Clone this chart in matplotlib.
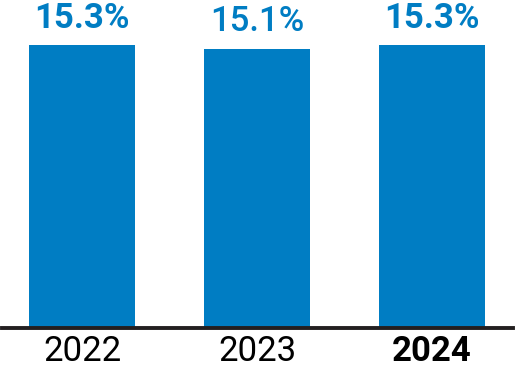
import matplotlib
matplotlib.use('Agg')
import matplotlib.pyplot as plt

# data
years = ['2022', '2023', '2024']
values = [15.3, 15.1, 15.3]
value_labels = ['15.3%', '15.1%', '15.3%']
label_weights = ['bold', 'medium', 'bold']
year_weights = ['normal', 'normal', 'bold']

blue = '#007DC3'

fig = plt.figure(figsize=(5.15, 3.72), dpi=100)
ax = fig.add_axes([2/515, 1 - 328/372, 511/515, 328/372])

x = range(len(years))
ax.bar(x, values, width=0.61, color=blue, zorder=2)

for xi, v, lab, w in zip(x, values, value_labels, label_weights):
    ax.text(xi, v + 0.55, lab, ha='center', va='bottom', color=blue,
            fontsize=25, fontweight=w, family='Roboto')

ax.axhline(0, color='#231F20', lw=2.8, zorder=3, clip_on=False)

ax.set_xlim(-0.457, 2.463)
ax.set_ylim(0, 17.73)
ax.set_xticks(list(x))
ax.set_xticklabels(years, fontsize=25, family='Roboto')
for t, w in zip(ax.get_xticklabels(), year_weights):
    t.set_fontweight(w)
ax.tick_params(axis='x', length=0, pad=5)
ax.set_yticks([])
for s in ax.spines.values():
    s.set_visible(False)

plt.savefig('out.png', dpi=100)
